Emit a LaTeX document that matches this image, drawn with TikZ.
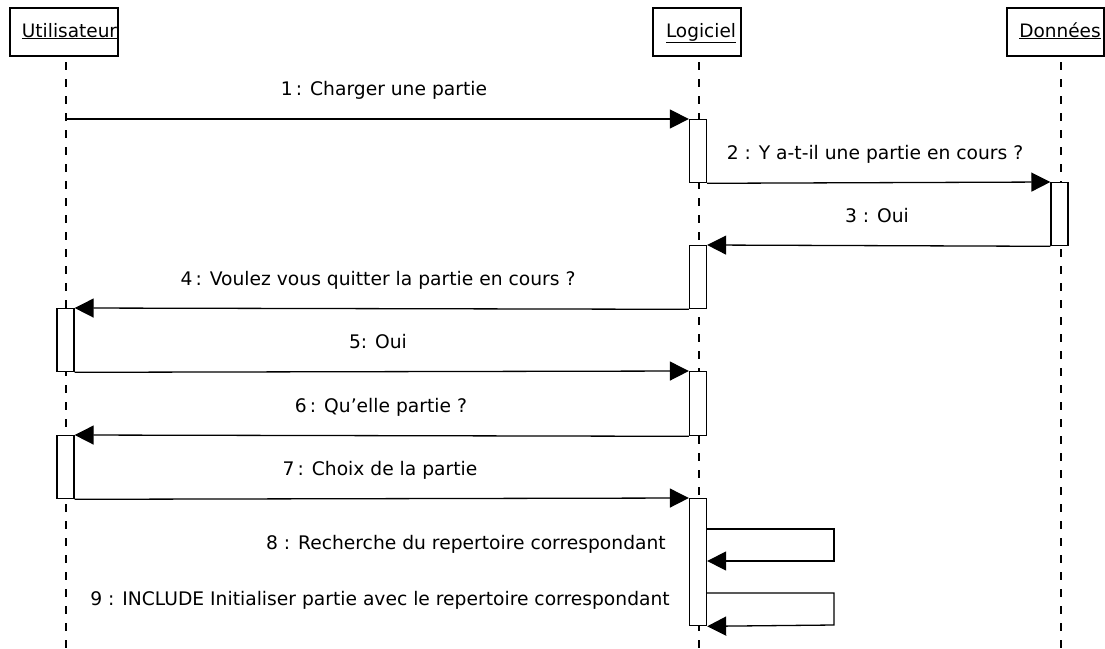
\documentclass[tikz,border=0pt]{standalone}
\usepackage{fontspec}
\setmainfont{DejaVu Sans}
\usetikzlibrary{arrows.meta}
\begin{document}
\begin{tikzpicture}[x=1pt,y=-1pt,
  lbl/.style={font=\fontsize{18.7}{21}\selectfont, inner sep=0pt, anchor=base},
  msg/.style={line width=1.3pt, -{Triangle[length=19pt,width=19pt]}},
  life/.style={line width=1.2pt, dash pattern=on 8pt off 9pt},
  actbox/.style={draw, line width=1.3pt, fill=white, minimum width=17pt, inner sep=0pt, anchor=north},
  head/.style={draw, line width=1.3pt, inner sep=0pt, minimum height=48pt},
  headtxt/.style={font=\fontsize{18.5}{21}\selectfont, inner sep=0pt, anchor=base}]
\useasboundingbox (0,0) rectangle (1105,648);

% object headers
\node[head, minimum width=108pt] (hU) at (64,32) {};
\node[head, minimum width=88pt] (hL) at (697,32) {};
\node[head, minimum width=97pt] (hD) at (1055.5,32) {};
\node[headtxt] (tU) at (69.5,37) {\underline{Utilisateur}};
\node[headtxt] (tL) at (701,37) {\underline{Logiciel}};
\node[headtxt] (tD) at (1060,37) {\underline{Données}};

% lifeline tops
\coordinate (lU) at (66,56);
\coordinate (lL) at (699,56);
\coordinate (lD) at (1061,56);
\draw[life] (lU) ++(0,6) -- (66,648);
\draw[life] (lL) ++(0,6) -- (699,648);
\draw[life] (lD) ++(0,6) -- (1061,648);

% activation bars
\node[actbox, minimum height=63pt] (aL1) at (698,119) {};
\node[actbox, minimum height=63pt] (aD)  at (1059.5,182) {};
\node[actbox, minimum height=63pt] (aL2) at (698,245) {};
\node[actbox, minimum height=63pt] (aU1) at (65.5,308) {};
\node[actbox, minimum height=64pt] (aL3) at (698,371) {};
\node[actbox, minimum height=63pt] (aU2) at (65.5,435) {};
\node[actbox, minimum height=127pt] (aL4) at (698,498) {};

% messages
\draw[msg] (lU |- aL1.north west) -- (aL1.north west);
\draw[msg] (aL1.south east) -- (aD.north west);
\draw[msg] (aD.south west) -- (aL2.north east);
\draw[msg] (aL2.south west) -- (aU1.north east);
\draw[msg] (aU1.south east) -- (aL3.north west);
\draw[msg] (aL3.south west) -- (aU2.north east);
\draw[msg] (aU2.south east) -- (aL4.north west);
% self calls
\coordinate (s8) at (834,529);
\coordinate (s9) at (834,593);
\draw[msg] (aL4.east |- s8) -- (s8) -- ++(0,32) -- (aL4.east |- 561,561);
\draw[msg] (aL4.east |- s9) -- (s9) -- ++(0,32) -- (aL4.south east);

% message labels
\node[lbl] (m1) at (384,95) {1\,: Charger une partie};
\node[lbl] (m2) at (875,159) {2 : Y a-t-il une partie en cours ?};
\node[lbl] (m3) at (877,222) {3 : Oui};
\node[lbl] (m4) at (378,285) {4\,: Voulez vous quitter la partie en cours ?};
\node[lbl] (m5) at (378,348) {5: Oui};
\node[lbl] (m6) at (381,412) {6\,: Qu'elle partie ?};
\node[lbl] (m7) at (380,475) {7\,: Choix de la partie};
\node[lbl, anchor=base east] (m8) at (666,549) {8 : Recherche du repertoire correspondant};
\node[lbl] (m9) at (380,605) {9 : INCLUDE Initialiser partie avec le repertoire correspondant};
\end{tikzpicture}
\end{document}
